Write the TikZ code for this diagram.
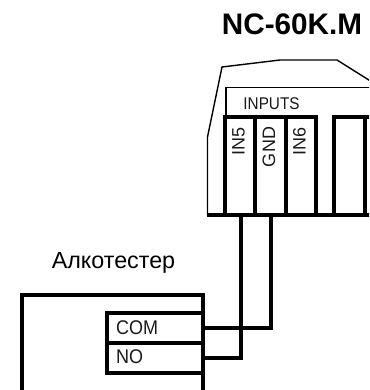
\documentclass[tikz,border=0pt]{standalone}
\usepackage{fontspec}
\setmainfont{Liberation Sans}
\tikzset{
  thick line/.style={line width=3.4pt,line cap=butt,line join=miter},
  thin line/.style={line width=1.4pt,line join=miter},
  lbl/.style={inner sep=0pt,font=\fontsize{18}{18}\selectfont,text=black!90},
}
\begin{document}
\begin{tikzpicture}[x=1pt,y=-1pt]
\useasboundingbox (0,0) rectangle (369,390);
\clip (0,0) rectangle (369,390);
% housing
\draw[thin line] (207.5,215) -- (207.5,137) -- (222,67) -- (280,60) -- (337,60) -- (372,82);
\draw[thin line] (226,117) -- (226,87.5) -- (372,87.5);
% terminal blocks
\draw[thick line] (225,215) -- (225,117) -- (316,117) -- (316,215);
\draw[thick line] (255,117) -- (255,215);
\draw[thick line] (286,117) -- (286,215);
\draw[thick line] (334,215) -- (334,117) -- (372,117);
\draw[thick line] (365,117) -- (365,215);
\draw[line width=4.4pt] (207,215) -- (372,215);
% tester
\draw[thick line] (22,392) -- (22,295) -- (203,295) -- (203,392);
\draw[thick line] (203,313) -- (107,313) -- (107,373) -- (203,373);
\draw[thick line] (107,343) -- (203,343);
% nodes
\node[inner sep=0pt,font=\fontsize{29.7}{30}\selectfont\bfseries] (title) at (292,24) {NC-60K.M};
\node[lbl,font=\fontsize{17}{17}\selectfont,xscale=.9] (inputs) at (271.5,104) {INPUTS};
\node[lbl,rotate=90] (in5) at (238.5,141) {IN5};
\node[lbl,rotate=90] (gnd) at (269,147) {GND};
\node[lbl,rotate=90] (in6) at (299.5,141) {IN6};
\node[inner sep=0pt,font=\fontsize{23.3}{24}\selectfont] (alko) at (113.5,263) {Алкотестер};
\node[lbl,anchor=west,yscale=1.1] (com) at (116,327.5) {COM};
\node[lbl,anchor=west,yscale=1.1] (no) at (116,357) {NO};
\coordinate (comout) at (203,328);
\coordinate (noout) at (203,358);
\coordinate (in5b) at (241,215);
\coordinate (gndb) at (271,215);
% wires
\draw[thick line] (comout) -- (271,328) -- (gndb);
\draw[thick line] (noout) -- (241,358) -- (in5b);
\end{tikzpicture}
\end{document}
